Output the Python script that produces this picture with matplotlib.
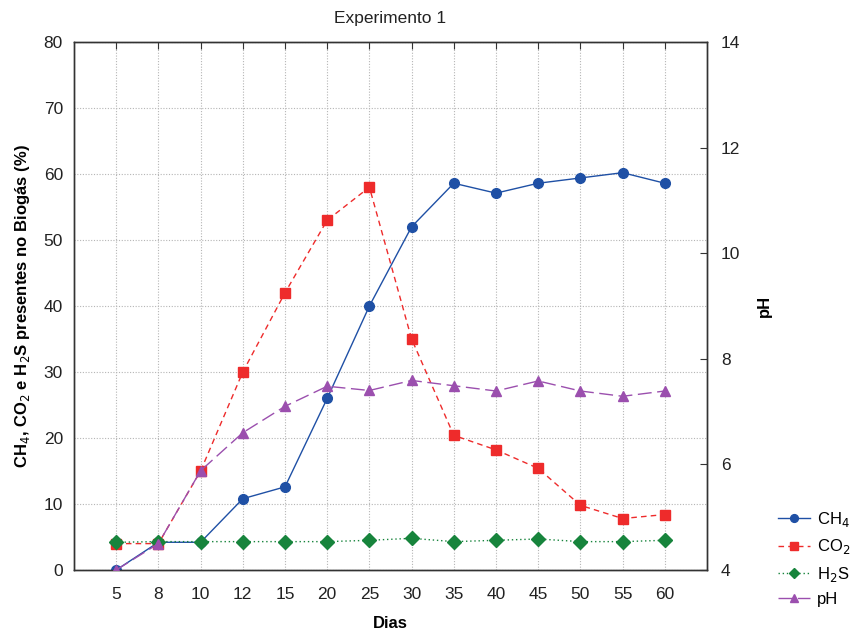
import matplotlib
matplotlib.use("Agg")
import matplotlib.pyplot as plt

plt.rcParams['font.family'] = ['Liberation Sans', 'DejaVu Sans']

dias = ['5', '8', '10', '12', '15', '20', '25', '30', '35', '40', '45', '50', '55', '60']
ch4 = [0, 4.2, 4.2, 10.8, 12.6, 26, 40, 52, 58.6, 57.1, 58.6, 59.4, 60.2, 58.6]
co2 = [4, 4, 15, 30, 42, 53, 58, 35, 20.4, 18.2, 15.4, 9.8, 7.8, 8.4]
h2s = [4.2, 4.3, 4.3, 4.3, 4.3, 4.3, 4.5, 4.8, 4.3, 4.5, 4.7, 4.3, 4.3, 4.5]
ph = [4.0, 4.5, 5.88, 6.6, 7.1, 7.48, 7.4, 7.59, 7.49, 7.39, 7.58, 7.39, 7.29, 7.39]

x = list(range(len(dias)))

fig = plt.figure(figsize=(8.52, 6.33), dpi=100)
ax = fig.add_axes([74/852, 63/633, 633/852, 528/633])
ax2 = ax.twinx()

l1, = ax.plot(x, ch4, color='#1f50a5', lw=1, marker='o', ms=7, label='CH$_4$', zorder=4)
l2, = ax.plot(x, co2, color='#ee2b2b', lw=1, ls=(0, (4, 3)), marker='s', ms=7, label='CO$_2$', zorder=4)
l3, = ax.plot(x, h2s, color='#17843c', lw=1, ls=(0, (1, 2)), marker='D', ms=7, label='H$_2$S', zorder=4)
l4, = ax2.plot(x, ph, color='#9b4fae', lw=1, ls=(0, (10, 4)), marker='^', ms=7, label='pH', zorder=4)

ax.set_xlim(-1, 14)
ax.set_ylim(0, 80)
ax.set_xticks(x)
ax.set_xticklabels(dias)
ax.set_yticks(range(0, 81, 10))
ax2.set_ylim(4, 14)
ax2.set_yticks(range(4, 15, 2))

ax.grid(True, color='#b5b5b5', ls=(0, (1, 1.5)), lw=0.8)
ax.set_axisbelow(True)

ax.tick_params(axis='x', labelsize=12.5, colors='#333333', labelcolor='#222222', top=True,
               bottom=False, direction='in', length=5, pad=12)
ax.tick_params(axis='y', labelsize=12.5, colors='#333333', labelcolor='#222222', length=0, pad=8)
ax2.tick_params(axis='y', labelsize=12.5, colors='#333333', labelcolor='#222222', direction='in', length=5, pad=10)
for a in (ax, ax2):
    for s in a.spines.values():
        s.set_color('#333333')
        s.set_linewidth(1)

ax.set_title('Experimento 1', fontsize=12.5, color='#222222', pad=14)
ax.set_xlabel('Dias', fontsize=12, fontweight='bold', labelpad=10)
ax.set_ylabel('CH$_4$, CO$_2$ e H$_2$S presentes no Biogás (%)', fontsize=12, fontweight='bold', labelpad=8)
ax2.set_ylabel('pH', fontsize=12, fontweight='bold', rotation=90, labelpad=12)

ax.legend(handles=[l1, l2, l3, l4], loc='lower left', bbox_to_anchor=(778/852, 26/633),
          bbox_transform=fig.transFigure, frameon=False, fontsize=12, handlelength=1.9,
          handletextpad=0.45, labelspacing=0.5, markerscale=0.8, borderaxespad=0, borderpad=0)

fig.savefig('out.png', dpi=100)
